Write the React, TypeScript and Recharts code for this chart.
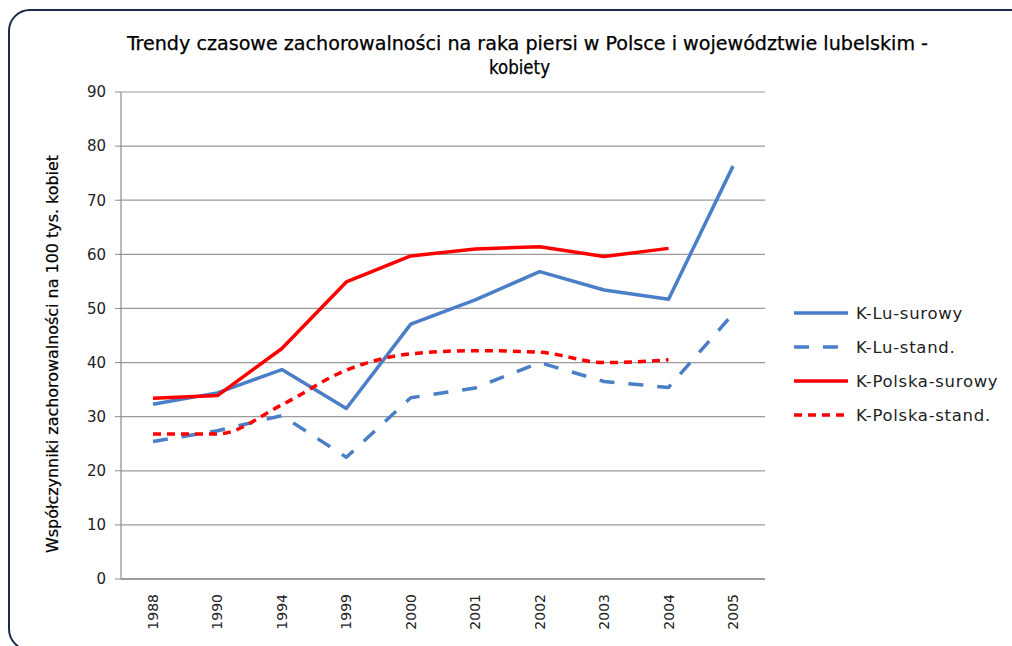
import { LineChart, Line, XAxis, YAxis, CartesianGrid } from "recharts";

const years = ["1988", "1990", "1994", "1999", "2000", "2001", "2002", "2003", "2004", "2005"];
const luSurowy = [32.3, 34.4, 38.7, 31.5, 47.1, 51.6, 56.8, 53.4, 51.7, 76.3];
const luStand = [25.4, 27.4, 30.2, 22.5, 33.5, 35.3, 40.0, 36.5, 35.4, 49.0];
const plSurowy = [33.4, 33.9, 42.6, 54.9, 59.7, 61.0, 61.4, 59.6, 61.1, null];
const plStand = [26.8, 26.8, 32.2, 38.6, 41.6, 42.2, 41.9, 40.0, 40.5, null];
const yTicks = [0, 10, 20, 30, 40, 50, 60, 70, 80, 90];

const title1 = "Trendy czasowe zachorowalności na raka piersi w Polsce i województwie lubelskim -";
const title2 = "kobiety";
const yLabel = "Współczynniki zachorowalności na 100 tys. kobiet";

const BLUE = "#4a7ec6";
const RED = "#ff0000";

const series = [
  { key: "luSurowy", name: "K-Lu-surowy", color: BLUE, dash: undefined, type: "linear" },
  { key: "luStand", name: "K-Lu-stand.", color: BLUE, dash: "15 14", type: "linear" },
  { key: "plSurowy", name: "K-Polska-surowy", color: RED, dash: undefined, type: "linear" },
  { key: "plStand", name: "K-Polska-stand.", color: RED, dash: "8 6", type: "monotone" },
] as const;

const data = years.map((year, i) => ({
  year,
  luSurowy: luSurowy[i],
  luStand: luStand[i],
  plSurowy: plSurowy[i],
  plStand: plStand[i],
}));

const tickFont = "'DejaVu Sans', Verdana, sans-serif";
const labelFont = "'Liberation Sans Narrow', 'DejaVu Sans Condensed', 'Open Sans', sans-serif";

function YearTick({ x, y, payload }: any) {
  const ty = y + 7;
  return (
    <text
      x={x}
      y={ty}
      transform={`rotate(-90 ${x} ${ty})`}
      textAnchor="end"
      dy="0.36em"
      fontSize={14}
      fontFamily={tickFont}
      fill="#222"
    >
      {payload.value}
    </text>
  );
}

export default function App() {
  return (
    <div style={{ position: "fixed", left: 0, top: 0, width: 1012, height: 646, overflow: "hidden", background: "#fff" }}>
      <div
        style={{
          position: "absolute",
          left: 8,
          top: 9,
          width: 1022,
          height: 638,
          border: "2px solid #1d2b4a",
          borderRadius: 22,
        }}
      />
      <div style={{ position: "absolute", left: 0, top: 0 }}>
        <LineChart width={1012} height={646} data={data} margin={{ top: 92, right: 247, bottom: 17, left: 61 }}>
          <CartesianGrid vertical={false} stroke="#9a9a9a" strokeWidth={1.2} />
          <XAxis
            dataKey="year"
            height={50}
            padding={{ left: 32, right: 32 }}
            tick={<YearTick />}
            tickLine={false}
            axisLine={{ stroke: "#8c8c8c", strokeWidth: 1.5 }}
            interval={0}
          />
          <YAxis
            width={60}
            domain={[0, 90]}
            ticks={yTicks}
            interval={0}
            tick={{ fontSize: 15, fill: "#222", fontFamily: tickFont }}
            tickSize={6}
            tickMargin={9}
            tickLine={{ stroke: "#8c8c8c" }}
            axisLine={{ stroke: "#8c8c8c", strokeWidth: 1.2 }}
          />
          {series.map((s) => (
            <Line
              key={s.key}
              dataKey={s.key}
              name={s.name}
              type={s.type}
              stroke={s.color}
              strokeWidth={3.5}
              strokeDasharray={s.dash}
              strokeLinejoin="round"
              dot={false}
              activeDot={false}
              connectNulls={false}
              isAnimationActive={false}
            />
          ))}
        </LineChart>
      </div>
      <svg width={1012} height={646} style={{ position: "absolute", left: 0, top: 0, pointerEvents: "none" }}>
        <text
          x={127}
          y={50}
          textLength={801}
          lengthAdjust="spacingAndGlyphs"
          fontSize={19}
          fontFamily={labelFont}
          fill="#000"
          stroke="#000"
          strokeWidth={0.25}
        >
          {title1}
        </text>
        <text
          x={489}
          y={74}
          textLength={61}
          lengthAdjust="spacingAndGlyphs"
          fontSize={19}
          fontFamily={labelFont}
          fill="#000"
          stroke="#000"
          strokeWidth={0.25}
        >
          {title2}
        </text>
        <text
          x={0}
          y={0}
          transform="translate(58 553) rotate(-90)"
          textLength={398}
          lengthAdjust="spacingAndGlyphs"
          fontSize={16.5}
          fontFamily={labelFont}
          fill="#000"
          stroke="#000"
          strokeWidth={0.2}
        >
          {yLabel}
        </text>
      </svg>
      <div style={{ position: "absolute", left: 792, top: 296 }}>
        {series.map((s) => (
          <div key={s.key} style={{ display: "flex", alignItems: "center", height: 34 }}>
            <svg width={58} height={8}>
              <line
                x1={2}
                y1={4}
                x2={56}
                y2={4}
                stroke={s.color}
                strokeWidth={3.5}
                strokeDasharray={s.dash}
              />
            </svg>
            <span
              style={{
                marginLeft: 6,
                fontSize: 16.5,
                letterSpacing: 0.7,
                fontFamily: tickFont,
                color: "#222",
                whiteSpace: "nowrap",
              }}
            >
              {s.name}
            </span>
          </div>
        ))}
      </div>
    </div>
  );
}
